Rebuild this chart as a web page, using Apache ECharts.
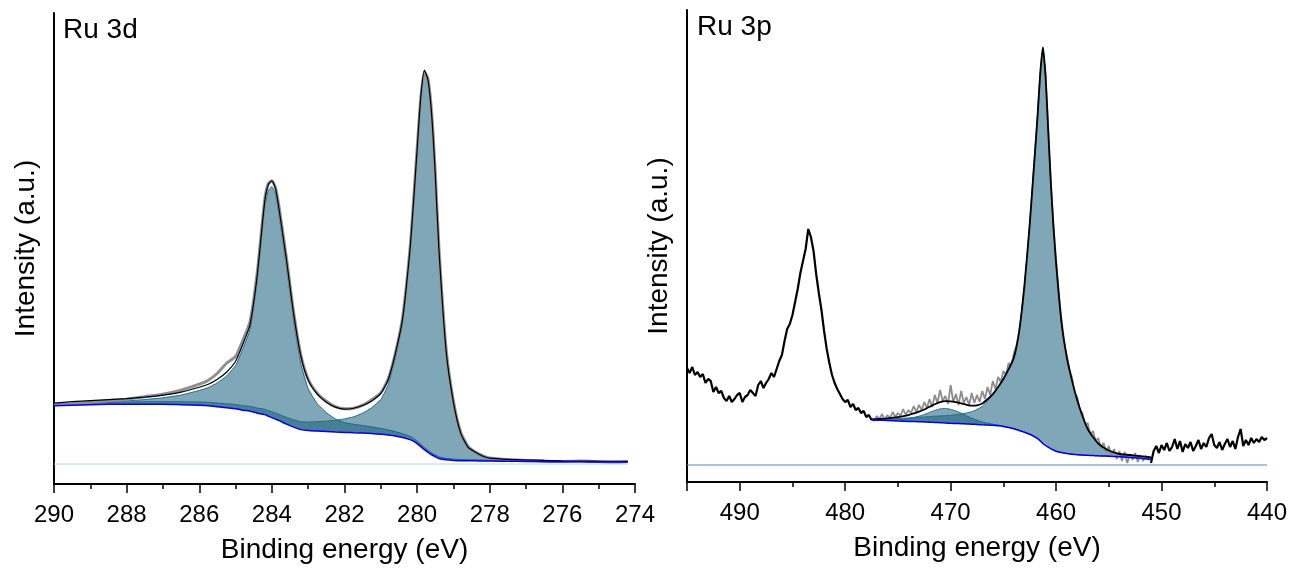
<!DOCTYPE html>
<html>
<head>
<meta charset="utf-8">
<script src="https://cdn.jsdelivr.net/npm/echarts@6/dist/echarts.min.js"></script>
<style>
html,body{margin:0;padding:0;background:#fff;}
#chart{width:1293px;height:569px;}
</style>
</head>
<body>
<div id="chart"></div>
<script>
// ---------------- Ru 3d panel (left) ----------------
const E3d = [290, 289.5, 289, 288.5, 288, 287.5, 287, 286.5, 286, 285.75, 285.5, 285.25, 285, 284.8, 284.6, 284.4, 284.2, 284.1, 284, 283.9, 283.8, 283.6, 283.4, 283.2, 283, 282.75, 282.5, 282.25, 282, 281.75, 281.5, 281.25, 281, 280.8, 280.6, 280.4, 280.2, 280.1, 280, 279.9, 279.8, 279.7, 279.6, 279.5, 279.4, 279.2, 279, 278.8, 278.6, 278.4, 278.2, 278, 277.5, 277, 276.5, 276, 275.5, 275, 274.5, 274.2];
const bg3d = [58.5, 59, 59.5, 59.8, 60, 60, 60, 59.5, 59, 58.5, 57.5, 56.5, 55.5, 54, 53, 51, 49.5, 48, 46.5, 45, 43.5, 40, 37, 34.5, 33.5, 33, 32.5, 32, 31.7, 31.3, 31, 30.5, 29.8, 29, 28, 26.5, 24.5, 23, 20.5, 17.5, 14.5, 11.8, 9.3, 7.3, 5.5, 4.2, 3.6, 3.4, 3.3, 3.2, 3.1, 3, 2.8, 2.6, 2.4, 2.3, 2.2, 2.1, 2, 2];
const ru3d32 = [1, 1.9, 2.2, 2.7, 3.3, 4.6, 6.4, 9.6, 14.8, 18.1, 23.9, 31.6, 43.3, 61.5, 82, 134, 207, 226, 231.5, 225, 205, 158, 106, 65.5, 42, 27.5, 19, 13.2, 9.8, 8.6, 7.6, 6.7, 5.9, 5.2, 4.5, 3.9, 3.3, 2.9, 2.6, 2.4, 2.2, 2, 1.9, 1.8, 1.7, 1.5, 1.3, 1.2, 1.1, 1, 0.9, 0.8, 0.7, 0.6, 0.5, 0.4, 0.35, 0.3, 0.3, 0.3];
const ru3d52 = [1.5, 1.6, 1.8, 2, 2.2, 2.4, 2.6, 2.9, 3.2, 3.4, 3.6, 3.9, 4.2, 4.5, 4.8, 5.1, 5.5, 5.7, 5.9, 6.1, 6.3, 6.8, 7.3, 7.9, 8.6, 9.5, 10.5, 11.8, 13.5, 16, 20, 26, 35, 50, 78, 115, 185.5, 236, 292, 348, 378, 371, 339, 281, 208, 107, 57, 26.4, 12.6, 7.8, 4, 2.2, 1.2, 0.9, 0.7, 0.5, 0.4, 0.35, 0.3, 0.3];
const raw3d = [59.5, 60.5, 62, 63.5, 65, 67.5, 70, 74, 80, 84, 91, 101, 108, 124, 143, 193, 264, 281, 284, 277, 257, 207, 152, 109, 85, 71, 63, 57.5, 55.5, 56, 59, 64.5, 71.5, 85, 111, 147, 214, 263, 316, 366, 393, 386, 352, 292, 217, 115, 63, 32, 18, 12, 8.5, 6, 4.5, 3.5, 3, 2.5, 3, 2.5, 2, 2.5];
const base3dE = [290, 274.2];
const base3dI = [0, 0];
const ticks3d = [290, 288, 286, 284, 282, 280, 278, 276, 274];

// ---------------- Ru 3p panel (right) ----------------
const E3p = [477.5, 477, 476, 475, 474, 473, 472.5, 472, 471.5, 471, 470.5, 470, 469.5, 469, 468.5, 468, 467.5, 467, 466.5, 466, 465.5, 465, 464.5, 464, 463.5, 463, 462.5, 462, 461.75, 461.5, 461.25, 461, 460.75, 460.5, 460.25, 460, 459.5, 459, 458.5, 458, 457.5, 457, 456.5, 456, 455.5, 455, 454, 453, 452, 451];
const bg3p = [45, 44.8, 44.5, 44, 43.6, 43.3, 43, 42.8, 42.6, 42.3, 42, 41.7, 41.5, 41.3, 41, 40.8, 40.5, 40.2, 40, 39.7, 39.2, 38.6, 37.5, 36.2, 34.5, 32.8, 30.8, 28, 26.3, 24, 21.5, 19.5, 17.8, 16.2, 15, 13.8, 12.4, 11.4, 10.8, 10.3, 10, 9.7, 9.5, 9.2, 9, 8.8, 8.3, 7.6, 6.8, 5.7];
const ru3pSat = [0.2, 0.3, 0.6, 1.3, 2.8, 5.5, 7.5, 9.8, 12, 13.8, 14.5, 14, 12.5, 10.5, 8.2, 6, 4.2, 2.8, 1.8, 1.1, 0.7, 0.4, 0.3, 0.2, 0.2, 0.1, 0.1, 0.1, 0.1, 0.1, 0.1, 0.1, 0.1, 0.1, 0.1, 0.1, 0.1, 0.1, 0.1, 0.1, 0, 0, 0, 0, 0, 0, 0, 0, 0, 0];
const ru3p32 = [0.5, 0.8, 1.5, 2.5, 3.5, 4.5, 5, 5.6, 6.2, 6.8, 7.4, 8, 8.8, 9.8, 11, 12.5, 15, 18.5, 24, 30, 38, 47, 58, 71, 99, 147, 210, 285, 324, 368, 396, 369, 317, 266, 223, 188, 131, 97, 74, 54.5, 39, 26.3, 18.5, 12.3, 8.5, 5.7, 2.7, 2.4, 2, 2];

const rawA_E = [495, 494.75, 494.5, 494.25, 494, 493.75, 493.5, 493.25, 493, 492.75, 492.5, 492.25, 492, 491.75, 491.5, 491.25, 491, 490.75, 490.5, 490.25, 490, 489.75, 489.5, 489.25, 489, 488.75, 488.5, 488.25, 488, 487.75, 487.5, 487.25, 487, 486.75, 486.5, 486.25, 486, 485.75, 485.5, 485.25, 485, 484.75, 484.5, 484.25, 484, 483.75, 483.5, 483.25, 483, 482.75, 482.5, 482.25, 482, 481.75, 481.5, 481.25, 481, 480.75, 480.5, 480.25, 480, 479.75, 479.5, 479.25, 479, 478.75, 478.5, 478.25, 478, 477.75, 477.5];
const rawA_I = [97, 92, 98, 90, 93, 88, 91, 82, 86, 84, 73, 78, 72, 74, 67, 64, 69, 63, 66, 70, 72, 63, 68, 70, 75, 72, 69, 80, 84, 77, 82, 86, 92, 88, 96, 104, 110, 124, 136, 141, 150, 163, 176, 192, 204, 216, 236, 228, 214, 191, 172, 155, 134, 116, 102, 90, 82, 76, 71, 66, 63, 65, 58, 61, 55, 57, 52, 54, 48, 50, 45];
const rawB_E = [477.5, 477.25, 477, 476.75, 476.5, 476.25, 476, 475.75, 475.5, 475.25, 475, 474.75, 474.5, 474.25, 474, 473.75, 473.5, 473.25, 473, 472.75, 472.5, 472.25, 472, 471.75, 471.5, 471.25, 471, 470.75, 470.5, 470.25, 470, 469.75, 469.5, 469.25, 469, 468.75, 468.5, 468.25, 468, 467.75, 467.5, 467.25, 467, 466.75, 466.5, 466.25, 466, 465.75, 465.5, 465.25, 465, 464.75, 464.5, 464.25, 464, 463.75, 463.5, 463.25, 463, 462.75, 462.5, 462.25, 462, 461.75, 461.5, 461.25, 461, 460.75, 460.5, 460.25, 460, 459.75, 459.5, 459.25, 459, 458.75, 458.5, 458.25, 458, 457.75, 457.5, 457.25, 457, 456.75, 456.5, 456.25, 456, 455.75, 455.5, 455.25, 455, 454.75, 454.5, 454.25, 454, 453.75, 453.5, 453.25, 453, 452.75, 452.5, 452.25, 452, 451.75, 451.5, 451.25, 451];
const rawB_I = [47, 44, 49, 46, 51, 45, 50, 47, 53, 48, 52, 49, 56, 50, 55, 52, 59, 53, 60, 55, 63, 57, 66, 58, 70, 62, 75, 64, 69, 61, 80, 63, 71, 60, 74, 62, 68, 60, 72, 62, 70, 63, 74, 66, 78, 70, 84, 76, 88, 83, 94, 90, 102, 98, 112, 120, 133, 152, 176, 205, 238, 275, 312, 348, 388, 412, 392, 338, 284, 240, 205, 172, 147, 125, 110, 96, 88, 72, 68, 55, 52, 40, 42, 30, 34, 24, 27, 17, 22, 13, 19, 9, 16, 6, 14, 4, 13, 2, 11, 5, 12, 3, 10, 4, 9, 5, 7];
const rawC_E = [451, 450.75, 450.5, 450.25, 450, 449.75, 449.5, 449.25, 449, 448.75, 448.5, 448.25, 448, 447.75, 447.5, 447.25, 447, 446.75, 446.5, 446.25, 446, 445.75, 445.5, 445.25, 445, 444.75, 444.5, 444.25, 444, 443.75, 443.5, 443.25, 443, 442.75, 442.5, 442.25, 442, 441.75, 441.5, 441.25, 441, 440.75, 440.5, 440.25, 440];
const rawC_I = [2, 14, 19, 12, 20, 15, 22, 14, 18, 26, 16, 24, 13, 21, 17, 23, 14, 19, 25, 16, 22, 18, 27, 31, 20, 17, 23, 15, 21, 26, 18, 24, 16, 28, 36, 19, 25, 20, 27, 22, 26, 23, 28, 25, 27];
const base3pE = [495, 440];
const base3pI = [0, 0];

// ---------------- build chart ----------------
const FONT = 'Liberation Sans, Arial, sans-serif';
const FILL = 'rgba(23,94,123,0.55)';
const EDGE = '#2a6a86';
const pairs = (E, V) => E.map((e, i) => [e, V[i]]);
const env3d = bg3d.map((b, i) => b + ru3d32[i] + ru3d52[i]);
const env3p = bg3p.map((b, i) => b + ru3pSat[i] + ru3p32[i]);

function line(xi, data, color, width, extra) {
  return Object.assign({
    type: 'line', xAxisIndex: xi, yAxisIndex: xi, data: data,
    showSymbol: false, symbol: 'none', silent: true, animation: false,
    lineStyle: { color: color, width: width }
  }, extra || {});
}
// fitted component: filled region between the background and background + component
function comp(xi, E, bg, vals) {
  return {
    type: 'custom', xAxisIndex: xi, yAxisIndex: xi, silent: true, animation: false,
    data: [[E[0], bg[0]]],
    encode: { x: 0, y: 1 },
    renderItem: function (params, api) {
      const upper = E.map((e, i) => api.coord([e, bg[i] + vals[i]]));
      const lower = E.map((e, i) => api.coord([e, bg[i]])).reverse();
      return {
        type: 'group',
        children: [
          { type: 'polygon', shape: { points: upper.concat(lower) }, style: { fill: FILL, stroke: null } },
          { type: 'polyline', shape: { points: upper, smooth: 0.15 }, style: { fill: null, stroke: EDGE, lineWidth: 1 } }
        ]
      };
    }
  };
}

const xCommon = {
  type: 'value', inverse: true,
  axisLine: { onZero: false, lineStyle: { color: '#000', width: 2 } },
  axisTick: { length: 9, lineStyle: { color: '#000', width: 1.5 } },
  axisLabel: { color: '#000', fontSize: 24, fontFamily: FONT, margin: 19 },
  splitLine: { show: false },
  name: 'Binding energy (eV)', nameLocation: 'middle', nameGap: 52,
  nameTextStyle: { color: '#000', fontSize: 28, fontFamily: FONT }
};
const yCommon = {
  type: 'value',
  axisLine: { show: true, onZero: false, lineStyle: { color: '#000', width: 2 } },
  axisTick: { show: false }, axisLabel: { show: false }, splitLine: { show: false },
  name: 'Intensity (a.u.)', nameLocation: 'middle', nameRotate: 90, nameGap: 14,
  nameTextStyle: { color: '#000', fontSize: 28, fontFamily: FONT }
};

const option = {
  animation: false,
  backgroundColor: '#fff',
  grid: [
    { left: 54, right: 658, top: 13, bottom: 84 },
    { left: 687, right: 26, top: 10, bottom: 87 }
  ],
  xAxis: [
    Object.assign({}, xCommon, { gridIndex: 0, min: ticks3d[ticks3d.length - 1], max: ticks3d[0], interval: 2,
      minorTick: { show: true, splitNumber: 2, length: 5, lineStyle: { color: '#000', width: 1.5 } } }),
    Object.assign({}, xCommon, { gridIndex: 1, min: 440, max: 495, interval: 10,
      axisLabel: Object.assign({}, xCommon.axisLabel, { formatter: v => (v % 10 === 0 ? String(v) : '') }) }),
    { type: 'value', gridIndex: 1, inverse: true, position: 'bottom', min: 440, max: 495, interval: 5,
      axisLine: { show: false, onZero: false }, axisLabel: { show: false }, splitLine: { show: false },
      axisTick: { show: true, length: 5, lineStyle: { color: '#000', width: 1.5 } } }
  ],
  yAxis: [
    Object.assign({}, yCommon, { gridIndex: 0, min: -20, max: 452 }),
    Object.assign({}, yCommon, { gridIndex: 1, min: -17, max: 455 })
  ],
  graphic: [
    { type: 'text', left: 63, top: 16, style: { text: 'Ru 3d', fontSize: 28, fontFamily: FONT, fill: '#000' } },
    { type: 'text', left: 697, top: 13, style: { text: 'Ru 3p', fontSize: 28, fontFamily: FONT, fill: '#000' } }
  ],
  series: [
    line(0, pairs(base3dE, base3dI), '#b5d5e8', 1),
    comp(0, E3d, bg3d, ru3d32),
    comp(0, E3d, bg3d, ru3d52),
    line(0, pairs(E3d, raw3d), '#8f8f8f', 3, { smooth: 0.2 }),
    line(0, pairs(E3d, env3d), '#000', 1.2, { smooth: 0.2 }),
    line(0, pairs(E3d, bg3d), '#0000ee', 1.5, { smooth: 0.2 }),

    line(1, pairs(base3pE, base3pI), '#4a8cab', 1),
    comp(1, E3p, bg3p, ru3pSat),
    comp(1, E3p, bg3p, ru3p32),
    line(1, pairs(rawB_E, rawB_I), '#8c8c8c', 1.8),
    line(1, pairs(rawA_E, rawA_I), '#000', 2.2),
    line(1, pairs(rawC_E, rawC_I), '#000', 2.2),
    line(1, pairs(E3p, env3p), '#000', 1.8, { smooth: 0.2 }),
    line(1, pairs(E3p, bg3p), '#0000ee', 1.5, { smooth: 0.2 })
  ]
};
const chart = echarts.init(document.getElementById('chart'), null, { renderer: 'canvas' });
chart.setOption(option);
</script>
</body>
</html>
